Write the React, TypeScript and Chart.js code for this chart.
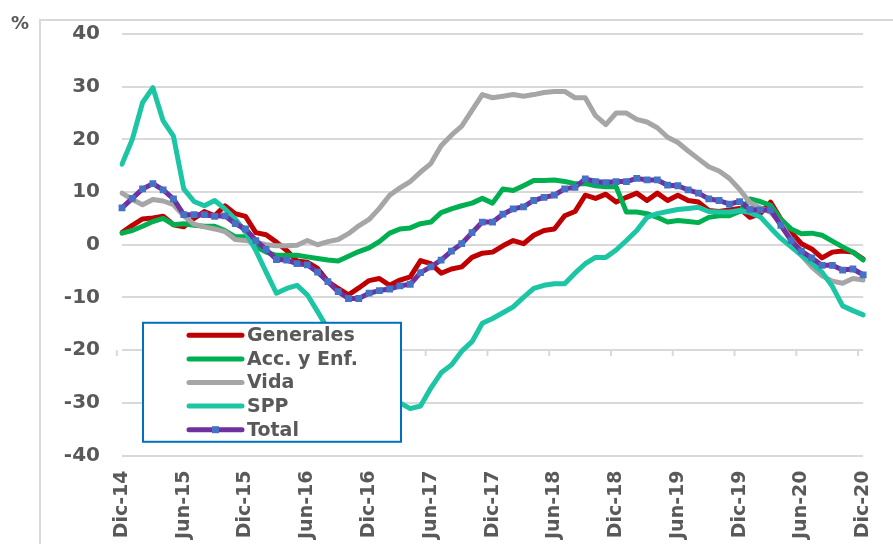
import React, { useEffect, useRef } from 'react';
import { Chart, registerables } from 'chart.js';

Chart.register(...registerables);

const categories = [
  'Dic-14', 'Ene-15', 'Feb-15', 'Mar-15', 'Abr-15', 'May-15', 'Jun-15', 'Jul-15', 'Ago-15', 'Set-15', 'Oct-15', 'Nov-15',
  'Dic-15', 'Ene-16', 'Feb-16', 'Mar-16', 'Abr-16', 'May-16', 'Jun-16', 'Jul-16', 'Ago-16', 'Set-16', 'Oct-16', 'Nov-16',
  'Dic-16', 'Ene-17', 'Feb-17', 'Mar-17', 'Abr-17', 'May-17', 'Jun-17', 'Jul-17', 'Ago-17', 'Set-17', 'Oct-17', 'Nov-17',
  'Dic-17', 'Ene-18', 'Feb-18', 'Mar-18', 'Abr-18', 'May-18', 'Jun-18', 'Jul-18', 'Ago-18', 'Set-18', 'Oct-18', 'Nov-18',
  'Dic-18', 'Ene-19', 'Feb-19', 'Mar-19', 'Abr-19', 'May-19', 'Jun-19', 'Jul-19', 'Ago-19', 'Set-19', 'Oct-19', 'Nov-19',
  'Dic-19', 'Ene-20', 'Feb-20', 'Mar-20', 'Abr-20', 'May-20', 'Jun-20', 'Jul-20', 'Ago-20', 'Set-20', 'Oct-20', 'Nov-20',
  'Dic-20',
];

const shownTickLabels = ['Dic-14', 'Jun-15', 'Dic-15', 'Jun-16', 'Dic-16', 'Jun-17', 'Dic-17', 'Jun-18', 'Dic-18', 'Jun-19', 'Dic-19', 'Jun-20', 'Dic-20'];

const generales = [
  2.3, 3.7, 4.9, 5.1, 5.4, 3.8, 3.4, 5.0, 6.3, 5.5,
  7.4, 5.9, 5.4, 2.3, 1.9, 0.5, -1.1, -3.1, -3.3, -4.5,
  -7.0, -8.3, -9.5, -8.2, -6.8, -6.4, -7.7, -6.7, -6.1, -3.0,
  -3.6, -5.4, -4.6, -4.2, -2.4, -1.6, -1.4, -0.2, 0.8, 0.2,
  1.8, 2.7, 3.0, 5.5, 6.3, 9.4, 8.8, 9.6, 8.1, 9.0,
  9.8, 8.4, 9.8, 8.4, 9.4, 8.4, 8.1, 6.5, 6.3, 6.6,
  6.9, 5.2, 5.9, 8.1, 4.9, 2.4, 0.2, -0.8, -2.5, -1.4,
  -1.2, -1.4, -2.7,
];

const accEnf = [
  2.2, 2.7, 3.5, 4.4, 5.0, 3.8, 4.0, 3.7, 3.5, 3.5,
  2.7, 1.5, 1.5, -0.4, -1.4, -2.0, -2.0, -2.0, -2.3, -2.6,
  -2.9, -3.1, -2.2, -1.3, -0.6, 0.6, 2.2, 3.0, 3.2, 4.0,
  4.3, 6.1, 6.8, 7.4, 7.9, 8.8, 7.9, 10.6, 10.3, 11.2,
  12.2, 12.2, 12.3, 12.0, 11.6, 11.6, 11.2, 11.0, 11.0, 6.2,
  6.2, 5.9, 5.2, 4.3, 4.6, 4.4, 4.2, 5.2, 5.5, 5.5,
  6.3, 8.7, 8.2, 7.5, 4.8, 3.0, 2.1, 2.2, 1.8, 0.7,
  -0.4, -1.4, -2.9,
];

const vida = [
  9.8, 8.6, 7.6, 8.6, 8.3, 7.6, 5.5, 3.9, 3.4, 3.0,
  2.5, 1.0, 0.8, 0.5, 0.0, -0.2, -0.2, -0.1, 0.8, 0.0,
  0.6, 1.0, 2.1, 3.6, 4.8, 6.9, 9.4, 10.8, 12.0, 13.8,
  15.4, 18.8, 20.8, 22.5, 25.5, 28.5, 27.9, 28.2, 28.5, 28.2,
  28.5, 28.9, 29.1, 29.1, 27.9, 27.9, 24.5, 22.8, 25.0, 25.0,
  23.8, 23.3, 22.2, 20.4, 19.4, 17.8, 16.3, 14.8, 14.0, 12.6,
  10.5, 8.0, 7.0, 6.2, 4.0, 1.0, -2.0, -4.2, -5.9, -6.9,
  -7.3, -6.4, -6.7,
];

const spp = [
  15.3, 20.0, 27.0, 29.8, 23.5, 20.6, 10.6, 8.2, 7.4, 8.4,
  6.8, 4.9, 2.4, -1.1, -5.2, -9.2, -8.3, -7.7, -9.5, -12.7,
  -16.0, -20.0, -24.0, -27.0, -28.8, -29.5, -29.9, -30.0, -31.1, -30.6,
  -27.2, -24.3, -22.8, -20.2, -18.4, -14.9, -14.0, -12.9, -11.8, -10.0,
  -8.3, -7.7, -7.4, -7.4, -5.4, -3.6, -2.4, -2.4, -1.0, 0.8,
  2.7, 5.2, 5.9, 6.3, 6.7, 6.9, 7.1, 6.3, 6.2, 6.2,
  6.5, 6.1, 5.3, 3.2, 1.2, -0.4, -2.0, -3.5, -5.2, -7.9,
  -11.6, -12.5, -13.3,
];

const total = [
  7.0, 8.8, 10.6, 11.6, 10.4, 8.7, 5.7, 5.7, 5.7, 5.4,
  5.5, 4.0, 3.0, 0.8, -0.9, -2.8, -2.9, -3.6, -3.8, -5.2,
  -7.0, -8.9, -10.2, -10.2, -9.2, -8.7, -8.4, -7.8, -7.5, -5.3,
  -4.2, -2.9, -1.2, 0.2, 2.3, 4.3, 4.3, 5.8, 6.8, 7.2,
  8.4, 9.0, 9.4, 10.6, 10.9, 12.5, 12.0, 11.8, 12.0, 12.0,
  12.6, 12.3, 12.3, 11.3, 11.2, 10.4, 9.8, 8.7, 8.4, 7.7,
  8.2, 6.7, 6.6, 6.6, 3.7, 0.8, -1.2, -2.5, -3.9, -3.9,
  -4.8, -4.6, -5.7,
];

const seriesNames = ['Generales', 'Acc. y Enf.', 'Vida', 'SPP', 'Total'];
const yTicks = [-40, -30, -20, -10, 0, 10, 20, 30, 40];

const FONT = "'DejaVu Sans', sans-serif";
const TEXT = '#595959';
const GRID = '#D9D9D9';
const COLORS = {
  generales: '#C00000',
  acc: '#00B050',
  vida: '#A6A6A6',
  spp: '#1CC5A3',
  total: '#7030A0',
  marker: '#4472C4',
};

const decorPlugin = {
  id: 'decor',
  beforeDraw(chart: any) {
    const ctx = chart.ctx;
    ctx.save();
    ctx.strokeStyle = GRID;
    ctx.lineWidth = 2;
    ctx.beginPath();
    ctx.moveTo(40, chart.height);
    ctx.lineTo(40, 20);
    ctx.lineTo(chart.width, 20);
    ctx.stroke();
    ctx.fillStyle = TEXT;
    ctx.font = `bold 18px ${FONT}`;
    ctx.textBaseline = 'middle';
    ctx.textAlign = 'left';
    ctx.fillText('%', 11, 24);
    ctx.restore();
  },
  beforeDatasetsDraw(chart: any) {
    const ctx = chart.ctx;
    const xs = chart.scales.x;
    const ys = chart.scales.y;
    const yAxis = ys.getPixelForValue(-20);
    const step = xs.getPixelForValue(1) - xs.getPixelForValue(0);
    ctx.save();
    ctx.strokeStyle = GRID;
    ctx.lineWidth = 2;
    for (let i = 0; i < categories.length; i += 6) {
      const x = xs.getPixelForValue(i) - step / 2;
      ctx.beginPath();
      ctx.moveTo(x, yAxis);
      ctx.lineTo(x, yAxis + 6);
      ctx.stroke();
    }
    ctx.restore();
  },
  afterDraw(chart: any) {
    const ctx = chart.ctx;
    const area = chart.chartArea;
    const left = area.left + 21;
    const top = chart.scales.y.getPixelForValue(-15) - 1;
    const w = 258;
    const h = 119;
    ctx.save();
    ctx.fillStyle = '#FFFFFF';
    ctx.fillRect(left, top, w, h);
    ctx.strokeStyle = '#0070C0';
    ctx.lineWidth = 2;
    ctx.strokeRect(left, top, w, h);
    const ds = chart.data.datasets;
    const rowH = 23.6;
    for (let i = 0; i < ds.length; i++) {
      const cy = top + 12.5 + i * rowH;
      const x1 = left + 46;
      const x2 = left + 99;
      ctx.strokeStyle = ds[i].borderColor;
      ctx.lineWidth = 5;
      ctx.lineCap = 'round';
      ctx.beginPath();
      ctx.moveTo(x1, cy);
      ctx.lineTo(x2, cy);
      ctx.stroke();
      if (ds[i].pointRadius > 0) {
        ctx.fillStyle = ds[i].pointBackgroundColor;
        ctx.fillRect((x1 + x2) / 2 - 3.5, cy - 3.5, 7, 7);
      }
      ctx.fillStyle = TEXT;
      ctx.font = `bold 19px ${FONT}`;
      ctx.textBaseline = 'middle';
      ctx.textAlign = 'left';
      ctx.fillText(ds[i].label, left + 104, cy + 1);
    }
    ctx.restore();
  },
};

export default function App() {
  const canvasRef = useRef<HTMLCanvasElement | null>(null);

  useEffect(() => {
    const canvas = canvasRef.current;
    if (!canvas) return;
    const lineDs = (label: string, data: number[], color: string, order: number) => ({
      label,
      data,
      borderColor: color,
      backgroundColor: color,
      borderWidth: 5,
      pointRadius: 0,
      pointHoverRadius: 0,
      tension: 0,
      borderJoinStyle: 'round' as const,
      borderCapStyle: 'round' as const,
      fill: false,
      order,
    });
    const chart = new Chart(canvas, {
      type: 'line',
      data: {
        labels: categories,
        datasets: [
          lineDs(seriesNames[0], generales, COLORS.generales, 5),
          lineDs(seriesNames[1], accEnf, COLORS.acc, 4),
          lineDs(seriesNames[2], vida, COLORS.vida, 3),
          lineDs(seriesNames[3], spp, COLORS.spp, 2),
          {
            label: seriesNames[4],
            data: total,
            borderColor: COLORS.total,
            backgroundColor: COLORS.marker,
            borderWidth: 5,
            pointStyle: 'rect',
            pointRadius: 4.8,
            pointHoverRadius: 4.8,
            pointBackgroundColor: COLORS.marker,
            pointBorderWidth: 0,
            tension: 0,
            borderJoinStyle: 'round' as const,
            fill: false,
            order: 1,
          },
        ],
      },
      options: {
        responsive: false,
        animation: false,
        devicePixelRatio: 1,
        layout: { padding: { top: 31, right: 19, left: 0, bottom: 0 } },
        plugins: {
          legend: { display: false },
          tooltip: { enabled: false },
        },
        scales: {
          x: {
            type: 'category',
            offset: false,
            grid: { display: false },
            border: { display: false },
            ticks: {
              autoSkip: false,
              maxRotation: 90,
              minRotation: 90,
              padding: 7,
              color: TEXT,
              font: { family: FONT, weight: 'bold', size: 19 },
              callback: (_v: any, i: number) => {
                const lbl = categories[i];
                return shownTickLabels.includes(lbl) && i % 6 === 0 ? lbl : '';
              },
            },
            afterFit: (s: any) => {
              s.height = 88.5;
            },
          },
          y: {
            min: yTicks[0],
            max: yTicks[yTicks.length - 1],
            grid: { color: GRID, lineWidth: 2, drawTicks: false },
            border: { display: false },
            ticks: {
              stepSize: 10,
              padding: 22,
              color: TEXT,
              font: { family: FONT, weight: 'bold', size: 20 },
            },
            afterFit: (s: any) => {
              s.width = 122;
            },
          },
        },
      },
      plugins: [decorPlugin],
    });
    return () => chart.destroy();
  }, []);

  return (
    <div style={{ position: 'absolute', left: 0, top: 0, width: 893, height: 544, background: '#fff' }}>
      <canvas ref={canvasRef} width={893} height={544} style={{ display: 'block' }} />
    </div>
  );
}
